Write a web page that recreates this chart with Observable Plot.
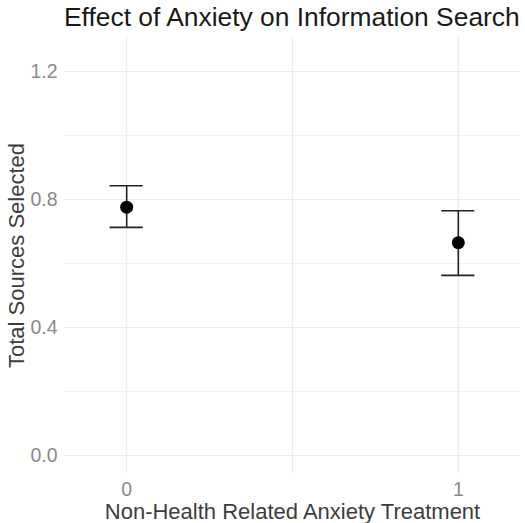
<!DOCTYPE html>
<html>
<head>
<meta charset="utf-8">
<script src="https://cdn.jsdelivr.net/npm/d3@7"></script>
<script src="https://cdn.jsdelivr.net/npm/@observablehq/plot@0.6"></script>
<style>
  body { margin: 0; background: #fff; font-family: "Liberation Sans", Arial, sans-serif; }
  #title { box-sizing: border-box; height: 37px; padding-top: 2px; padding-left: 64px; font-size: 26.4px; color: #1a1a1a; line-height: 30px; white-space: nowrap; overflow: hidden; }
</style>
</head>
<body>
<div id="title">Effect of Anxiety on Information Search</div>
<div id="chart"></div>
<script>
const groups = [0, 1];
const means = [0.776, 0.665];
const lower = [0.713, 0.563];
const upper = [0.843, 0.765];
const yMajor = [0, 0.4, 0.8, 1.2];
const yMinor = [0.2, 0.6, 1.0];
const xGrid = [0, 0.5, 1];
const capHalf = 0.05;

const data = groups.map((g, i) => ({g, mean: means[i], lo: lower[i], hi: upper[i]}));

const chart = Plot.plot({
  width: 525,
  height: 486,
  marginLeft: 64,
  marginRight: 5,
  marginTop: 0,
  marginBottom: 50,
  style: {fontFamily: "Liberation Sans, Arial, sans-serif", background: "#fff"},
  x: {domain: [-0.1875, 1.1875]},
  y: {domain: [-0.056, 1.306]},
  marks: [
    Plot.ruleY(yMinor, {stroke: "#f2f2f2", strokeWidth: 1}),
    Plot.ruleY(yMajor, {stroke: "#ebebeb", strokeWidth: 1.1}),
    Plot.ruleX(xGrid, {stroke: "#ebebeb", strokeWidth: 1.1}),
    Plot.axisY(yMajor, {tickSize: 0, tickPadding: 7, tickFormat: d => d.toFixed(1), fontSize: 19.5, fill: "#8a8a8a", label: null}),
    Plot.axisX(groups, {tickSize: 0, tickPadding: 9, tickFormat: d => String(d), fontSize: 19.5, fill: "#8a8a8a", label: null}),
    Plot.text(["Total Sources Selected"], {frameAnchor: "left", dx: -48, rotate: -90, textAnchor: "middle", lineAnchor: "middle", fontSize: 22, fill: "#3d3d3d", text: d => d}),
    Plot.text(["Non-Health Related Anxiety Treatment"], {frameAnchor: "bottom", dy: 38, textAnchor: "middle", lineAnchor: "middle", fontSize: 22, fill: "#3d3d3d", text: d => d}),
    Plot.ruleX(data, {x: "g", y1: "lo", y2: "hi", stroke: "#222", strokeWidth: 1.6}),
    Plot.ruleY(data, {y: "hi", x1: d => d.g - capHalf, x2: d => d.g + capHalf, stroke: "#222", strokeWidth: 1.6}),
    Plot.ruleY(data, {y: "lo", x1: d => d.g - capHalf, x2: d => d.g + capHalf, stroke: "#222", strokeWidth: 1.6}),
    Plot.dot(data, {x: "g", y: "mean", r: 6.5, fill: "#000", stroke: "none"})
  ]
});
document.getElementById("chart").appendChild(chart);
</script>
</body>
</html>
